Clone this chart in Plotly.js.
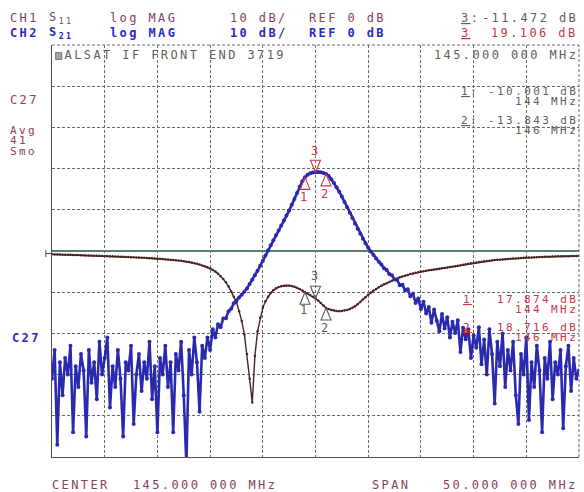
<!DOCTYPE html>
<html>
<head>
<meta charset="utf-8">
<script src="https://cdn.plot.ly/plotly-3.0.1.min.js"></script>
<style>
  html, body { margin: 0; padding: 0; background: #fff; }
  /* plotter-style wide lettering (global so text measuring sees it too) */
  text { letter-spacing: 2.4px; }
</style>
</head>
<body>
<div id="plot" style="width:584px;height:492px;"></div>
<script>
// Sweep settings of the analyser
const CENTER_MHZ = 145;
const SPAN_MHZ = 50;
const NPTS = 201;
const freq = Array.from({ length: NPTS }, (_, i) => CENTER_MHZ - SPAN_MHZ / 2 + i * SPAN_MHZ / (NPTS - 1));

// CH1: S11 log magnitude (dB), one value per sweep point (0.25 MHz steps from 120 MHz)
const s11 = [
  -0.80, -0.82, -0.84, -0.86, -0.88, -0.90, -0.92, -0.94, -0.96, -0.98,
  -1.00, -1.02, -1.05, -1.07, -1.09, -1.11, -1.13, -1.15, -1.17, -1.19,
  -1.21, -1.24, -1.27, -1.30, -1.33, -1.36, -1.39, -1.42, -1.45, -1.48,
  -1.51, -1.54, -1.57, -1.60, -1.63, -1.66, -1.70, -1.74, -1.78, -1.82,
  -1.86, -1.90, -1.95, -2.00, -2.05, -2.11, -2.17, -2.24, -2.31, -2.39,
  -2.48, -2.58, -2.69, -2.82, -2.96, -3.12, -3.30, -3.50, -3.72, -3.97,
  -4.25, -4.6, -5.0, -5.5, -6.1, -6.8, -7.6, -8.6, -9.8, -11.1,
  -12.4, -14.6, -17.0, -20.2, -25.0, -31.0, -36.8, -25.5, -19.5, -16.2,
  -13.8, -12.2, -11.1, -10.2, -9.5, -9.05, -8.75, -8.55, -8.45, -8.4,
  -8.4, -8.5, -8.7, -8.95, -9.25, -9.6, -10.001, -10.35, -10.7, -11.1,
  -11.472, -12.0, -12.6, -13.2, -13.843, -14.1, -14.3, -14.45, -14.55, -14.6,
  -14.55, -14.45, -14.3, -14.1, -13.8, -13.4, -12.9, -12.4, -11.8, -11.2,
  -10.6, -10.1, -9.6, -9.2, -8.8, -8.45, -8.1, -7.8, -7.5, -7.2,
  -6.9, -6.65, -6.4, -6.2, -6.0, -5.8, -5.6, -5.45, -5.3, -5.15,
  -5.0, -4.9, -4.8, -4.7, -4.6, -4.5, -4.4, -4.3, -4.2, -4.1,
  -4.0, -3.9, -3.8, -3.68, -3.56, -3.44, -3.32, -3.2, -3.1, -3.0,
  -2.9, -2.8, -2.7, -2.6, -2.5, -2.42, -2.34, -2.27, -2.2, -2.15,
  -2.1, -2.05, -2.0, -1.95, -1.9, -1.85, -1.8, -1.75, -1.7, -1.65,
  -1.6, -1.58, -1.55, -1.52, -1.5, -1.48, -1.45, -1.42, -1.4, -1.38,
  -1.35, -1.32, -1.3, -1.29, -1.28, -1.27, -1.25, -1.23, -1.22, -1.21,
  -1.2
];

// CH2: S21 log magnitude (dB), same sweep points
const s21 = [
  -31, -24, -47, -27, -35, -26, -30, -23, -44, -28,
  -33, -25, -29, -45, -24, -32, -27, -36, -22, -30,
  -26, -21, -38, -28, -33, -24, -31, -45, -27, -29,
  -23, -42, -30, -25, -34, -27, -31, -22, -36, -28,
  -44, -26, -30, -23, -33, -27, -44, -25, -29, -22,
  -35, -52, -24, -30, -21, -27, -39, -23, -26, -21,
  -24, -19, -21, -17.8, -18.5, -16.4, -16.3, -14.6, -14.0, -12.7,
  -12.0, -11.3, -10.6, -9.9, -9.1, -8.0, -7.0, -5.9, -4.8, -3.6,
  -2.4, -1.1, 0.2, 1.4, 2.6, 3.8, 5.0, 6.2, 7.4, 8.6,
  9.8, 11.2, 12.6, 14.1, 15.6, 16.9, 17.874, 18.5, 18.85, 19.05,
  19.106, 19.15, 19.1, 18.95, 18.716, 18.2, 17.4, 16.5, 15.5, 14.4,
  13.2, 11.9, 10.6, 9.3, 8.0, 6.7, 5.4, 4.2, 3.0, 1.9,
  0.8, -0.1, -1.0, -1.8, -2.6, -3.3, -4.2, -4.6, -5.6, -5.9,
  -6.9, -7.0, -8.3, -8.2, -9.6, -9.3, -11.0, -10.4, -12.6, -11.5,
  -14.1, -12.3, -15.2, -13.6, -17.4, -14.2, -16.9, -19.5, -15.3, -18.8,
  -16.1, -21.0, -17.2, -19.9, -16.8, -24.5, -18.6, -21.4, -19.0, -26.0,
  -20.5, -23.5, -18.5, -27.5, -21.5, -30, -19, -25, -37, -22,
  -28, -20, -33, -24, -29, -22, -35, -42, -25, -30,
  -21, -41, -27, -33, -23, -29, -44, -26, -31, -22,
  -36, -27, -30, -24, -43, -28, -23, -34, -26, -31,
  -29
];

// Marker frequencies (MHz): markers 1, 2 and 3
const markerFreqs = [144, 146, 145];
const markerNames = ['1', '2', '3'];

const C_CH1 = '#864060';
const C_CH1_TRACE = '#4a2224';
const C_CH2 = '#2a2ac8';
const C_CH2_TRACE = '#2a2aae';
const C_RED = '#cc3444';
const C_GRAY = '#5e5e5e';
const FONT = '"DejaVu Sans Mono", "Liberation Mono", monospace';

// plot frame in pixels
const PL = 52, PR = 579, PT = 45, PB = 457;
const px = x => (x - PL) / (PR - PL);
const py = y => (PB - y) / (PB - PT);

function label(text, x, y, color, xanchor, weight, size) {
  return {
    text, xref: 'paper', yref: 'paper', x: px(x), y: py(y),
    xanchor: xanchor || 'left', yanchor: 'middle', showarrow: false,
    font: { family: FONT, size: size || 12, color, weight: weight || 'normal' }
  };
}

const idx = f => freq.findIndex(v => Math.abs(v - f) < 1e-6);
const mIdx = markerFreqs.map(idx);
const fmt = v => v.toFixed(3);

const annotations = [
  // header, channel 1
  label('CH1', 8, 18, C_CH1),
  label('S<sub>11</sub>', 47, 18, C_CH1),
  label('log MAG', 108, 18, C_CH1),
  label('10 dB/', 228, 18, C_CH1),
  label('REF 0 dB', 307, 18, C_CH1),
  label('<u>3</u>:', 459, 18, C_GRAY),
  label(fmt(s11[mIdx[2]]) + ' dB', 580, 18, C_GRAY, 'right'),
  // header, channel 2
  label('CH2', 8, 33, C_CH2, 'left', 'bold'),
  label('S<sub>21</sub>', 47, 33, C_CH2, 'left', 'bold'),
  label('log MAG', 108, 33, C_CH2, 'left', 'bold'),
  label('10 dB/', 228, 33, C_CH2, 'left', 'bold'),
  label('REF 0 dB', 307, 33, C_CH2, 'left', 'bold'),
  label('<u>3</u>', 459, 33, C_RED),
  label(fmt(s21[mIdx[2]]) + ' dB', 580, 33, C_RED, 'right'),
  // title and marker readouts inside the graticule
  label('▨ALSAT IF FRONT END 3719', 53, 55, C_GRAY),
  label(CENTER_MHZ.toFixed(3) + ' 000 MHz', 580, 55, C_GRAY, 'right'),
  label('<u>1</u>: ' + fmt(s11[mIdx[0]]) + ' dB', 580, 91.5, C_GRAY, 'right', 'normal', 11),
  label(markerFreqs[0] + ' MHz', 580, 101.5, C_GRAY, 'right', 'normal', 11),
  label('<u>2</u>: ' + fmt(s11[mIdx[1]]) + ' dB', 580, 120.5, C_GRAY, 'right', 'normal', 11),
  label(markerFreqs[1] + ' MHz', 580, 130.5, C_GRAY, 'right', 'normal', 11),
  label('<u>1</u>', 461, 299.5, C_RED, 'left', 'normal', 11),
  label(fmt(s21[mIdx[0]]) + ' dB', 580, 299.5, C_RED, 'right', 'normal', 11),
  label(markerFreqs[0] + ' MHz', 580, 309.5, C_RED, 'right', 'normal', 11),
  label('<u>2</u>', 461, 327.5, C_RED, 'left', 'normal', 11),
  label(fmt(s21[mIdx[1]]) + ' dB', 580, 327.5, C_RED, 'right', 'normal', 11),
  label(markerFreqs[1] + ' MHz', 580, 337.5, C_RED, 'right', 'normal', 11),
  // left status column
  label('C27', 8, 100, C_CH1),
  label('Avg', 8, 130, C_CH1, 'left', 'normal', 11),
  label('41', 8, 140.5, C_CH1, 'left', 'normal', 11),
  label('Smo', 8, 151, C_CH1, 'left', 'normal', 11),
  label('C27', 10, 338, C_CH2, 'left', 'bold'),
  // reference position mark
  label('⊢', 43, 253, '#444', 'left', 'normal', 11),
  // sweep settings
  label('CENTER', 50, 485, C_CH1),
  label(CENTER_MHZ.toFixed(3) + ' 000 MHz', 131, 485, C_CH1),
  label('SPAN', 370, 485, C_CH1),
  label(SPAN_MHZ.toFixed(3) + ' 000 MHz', 441, 485, C_CH1)
];

// graticule top/right edges, then marker triangles placed on the trace values
const shapes = [
  { type: 'line', xref: 'paper', yref: 'paper', x0: 0, x1: 1, y0: 1, y1: 1,
    line: { color: '#6a6a6a', width: 1, dash: '3px,2px' } },
  { type: 'line', xref: 'paper', yref: 'paper', x0: 1, x1: 1, y0: 0, y1: 1,
    line: { color: '#6a6a6a', width: 1, dash: '3px,2px' } }
];

function addMarkers(values, color, numShift) {
  mIdx.forEach((i, k) => {
    const up = markerNames[k] !== '3';
    shapes.push({
      type: 'path', xref: 'x', yref: 'y',
      xsizemode: 'pixel', ysizemode: 'pixel',
      xanchor: freq[i], yanchor: values[i],
      path: up ? 'M0,0 L-5,-12 L5,-12 Z' : 'M0,0 L-5,12 L5,12 Z',
      line: { color, width: 1.1 }
    });
    annotations.push({
      text: markerNames[k], x: freq[i], y: values[i], xref: 'x', yref: 'y',
      showarrow: false, xanchor: 'center', yanchor: 'middle',
      yshift: up ? -numShift[k] : numShift[k],
      font: { family: FONT, size: 12, color }
    });
  });
}
addMarkers(s21, C_RED, [20, 20, 21]);
addMarkers(s11, C_GRAY, [18, 20, 22]);

const traces = [
  {
    x: freq, y: s11, type: 'scatter', mode: 'lines+markers', name: 'S11',
    line: { color: C_CH1_TRACE, width: 1.4 },
    marker: { color: C_CH1_TRACE, size: 2.5 }
  },
  {
    x: freq, y: s21, type: 'scatter', mode: 'lines+markers', name: 'S21',
    line: { color: C_CH2_TRACE, width: 2.6 },
    marker: { color: C_CH2_TRACE, size: 4 }
  }
];

const gridStyle = { gridcolor: '#6c6c6c', gridwidth: 1, griddash: '3px,2px' };

const layout = {
  width: 584, height: 492,
  margin: { l: PL, r: 584 - PR, t: PT, b: 492 - PB, pad: 0 },
  paper_bgcolor: '#ffffff', plot_bgcolor: '#ffffff',
  showlegend: false,
  xaxis: Object.assign({
    range: [CENTER_MHZ - SPAN_MHZ / 2, CENTER_MHZ + SPAN_MHZ / 2],
    tick0: CENTER_MHZ - SPAN_MHZ / 2, dtick: SPAN_MHZ / 10,
    showticklabels: false, ticks: '', showgrid: true, zeroline: false,
    showline: true, linecolor: '#505050', linewidth: 1.2, fixedrange: true
  }, gridStyle),
  yaxis: Object.assign({
    range: [-50, 50], tick0: 0, dtick: 10,
    showticklabels: false, ticks: '', showgrid: true,
    zeroline: true, zerolinecolor: '#55806a', zerolinewidth: 1.5,
    showline: true, linecolor: '#505050', linewidth: 1.2, fixedrange: true
  }, gridStyle),
  shapes, annotations
};

Plotly.newPlot('plot', traces, layout, { staticPlot: true, displayModeBar: false });
</script>
</body>
</html>
